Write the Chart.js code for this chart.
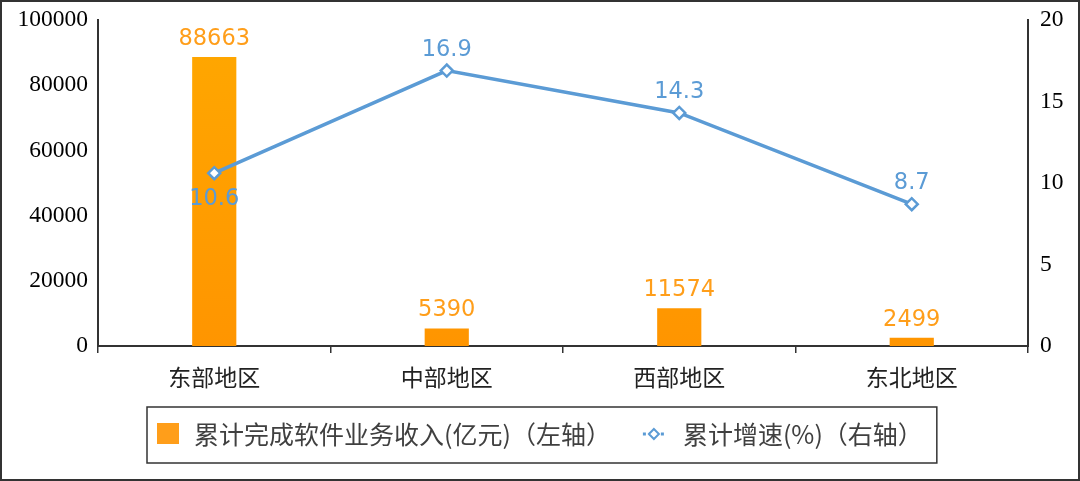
<!DOCTYPE html>
<html>
<head>
<meta charset="utf-8">
<script src="https://cdn.jsdelivr.net/npm/chart.js@4"></script>
<style>
    html, body { margin: 0; padding: 0; background: #fff; }
    #wrap { width: 1080px; height: 481px; }
</style>
</head>
<body>
<div id="wrap"><canvas id="chart" width="1080" height="481"></canvas></div>
<script>
// Data
const regions = ['东部地区', '中部地区', '西部地区', '东北地区'];
const revenue = [88663, 5390, 11574, 2499];      // 亿元, left axis
const growth = [10.6, 16.9, 14.3, 8.7];           // %, right axis
const leftTicks = [0, 20000, 40000, 60000, 80000, 100000];
const rightTicks = [0, 5, 10, 15, 20];
const revenueLabel = '累计完成软件业务收入(亿元)（左轴）';
const growthLabel = '累计增速(%)（右轴）';

const orange = '#FF9E1A';
const blue = '#5B9BD5';
const axisColor = '#333333';

// value labels on bars and points (line labels: first one sits below)
const valueLabels = {
    id: 'valueLabels',
    afterDatasetsDraw(chart) {
        const ctx = chart.ctx;
        ctx.save();
        ctx.font = '22.5px "DejaVu Sans"';
        ctx.textAlign = 'center';
        ctx.textBaseline = 'alphabetic';
        chart.data.datasets.forEach((ds, i) => {
            const meta = chart.getDatasetMeta(i);
            meta.data.forEach((el, j) => {
                const v = ds.data[j];
                if (ds.type === 'bar') {
                    ctx.fillStyle = orange;
                    ctx.fillText(String(v), el.x, el.y - 12);
                } else {
                    ctx.fillStyle = blue;
                    const below = j === 0;
                    ctx.fillText(v.toFixed(1), el.x, below ? el.y + 32 : el.y - 15);
                }
            });
        });
        ctx.restore();
    }
};

// boxed legend + outer frame
const frameAndLegend = {
    id: 'frameAndLegend',
    afterDraw(chart) {
        const ctx = chart.ctx;
        const W = chart.width, H = chart.height;
        ctx.save();
        ctx.strokeStyle = axisColor;
        ctx.lineWidth = 2;
        ctx.strokeRect(1, 1, W - 2, H - 2);

        ctx.font = '25px "Noto Sans CJK SC"';
        const w1 = ctx.measureText(revenueLabel).width;
        const w2 = ctx.measureText(growthLabel).width;
        const total = 22 + 15 + w1 + 32 + 22 + 18 + w2;
        const boxLeft = Math.round(W / 2 - total / 2 - 10);
        const boxTop = 407, boxH = 56;
        const cy = boxTop + boxH / 2 - 1;
        ctx.lineWidth = 1.5;
        ctx.strokeRect(boxLeft, boxTop, total + 24, boxH);

        let x = boxLeft + 10;
        ctx.fillStyle = orange;
        ctx.fillRect(x, cy - 11, 22, 21);
        x += 22 + 15;
        ctx.fillStyle = '#404040';
        ctx.textBaseline = 'middle';
        ctx.fillText(revenueLabel, x, cy);
        x += w1 + 32;

        // line marker with diamond
        ctx.strokeStyle = blue;
        ctx.lineWidth = 3;
        ctx.setLineDash([3, 3]);
        ctx.beginPath();
        ctx.moveTo(x, cy); ctx.lineTo(x + 22, cy);
        ctx.stroke();
        ctx.setLineDash([]);
        const mx = x + 11;
        ctx.beginPath();
        ctx.moveTo(mx, cy - 5); ctx.lineTo(mx + 5, cy); ctx.lineTo(mx, cy + 5); ctx.lineTo(mx - 5, cy);
        ctx.closePath();
        ctx.fillStyle = '#fff';
        ctx.fill();
        ctx.lineWidth = 2;
        ctx.stroke();
        x += 22 + 18;
        ctx.fillStyle = '#404040';
        ctx.fillText(growthLabel, x, cy);
        ctx.restore();
    }
};

const ctx = document.getElementById('chart').getContext('2d');
new Chart(ctx, {
    data: {
        labels: regions,
        datasets: [
            {
                type: 'line',
                label: growthLabel,
                data: growth,
                yAxisID: 'y1',
                borderColor: blue,
                borderWidth: 3.5,
                pointStyle: 'rectRot',
                pointRadius: 6,
                pointBorderWidth: 2.5,
                pointBackgroundColor: '#fff',
                pointBorderColor: blue,
                tension: 0,
                order: 0
            },
            {
                type: 'bar',
                label: revenueLabel,
                data: revenue,
                yAxisID: 'y',
                backgroundColor: (c) => {
                    const area = c.chart.chartArea;
                    if (!area) return orange;
                    const g = c.chart.ctx.createLinearGradient(0, area.top, 0, area.bottom);
                    g.addColorStop(0, '#FFA800');
                    g.addColorStop(1, '#FF9500');
                    return g;
                },
                categoryPercentage: 1,
                barPercentage: 0.19,
                order: 1
            }
        ]
    },
    options: {
        responsive: false,
        animation: false,
        layout: { padding: { top: 20, bottom: 85, left: 0, right: 0 } },
        plugins: {
            legend: { display: false },
            tooltip: { enabled: false }
        },
        scales: {
            x: {
                offset: true,
                grid: { offset: true, drawOnChartArea: false, drawTicks: true, tickLength: 7, color: axisColor, lineWidth: 1.5 },
                border: { display: true, color: axisColor, width: 2 },
                ticks: { font: { family: '"Noto Sans CJK SC"', size: 23 }, color: '#222', padding: 10 },
                afterFit(s) { s.height = 50; s.paddingLeft = 0; s.paddingRight = 0; }
            },
            y: {
                position: 'left',
                min: 0,
                max: 100000,
                afterBuildTicks(s) { s.ticks = leftTicks.map(v => ({ value: v })); },
                grid: { display: false, drawTicks: false },
                border: { display: true, color: axisColor, width: 2 },
                ticks: { font: { family: '"Liberation Serif"', size: 23.5 }, color: '#000', padding: 10, callback: v => String(v) },
                afterFit(s) { s.width = 98; s.paddingTop = 0; s.paddingBottom = 0; }
            },
            y1: {
                position: 'right',
                min: 0,
                max: 20,
                afterBuildTicks(s) { s.ticks = rightTicks.map(v => ({ value: v })); },
                grid: { display: false, drawTicks: false },
                border: { display: true, color: axisColor, width: 2 },
                ticks: { font: { family: '"Liberation Serif"', size: 23.5 }, color: '#000', padding: 12, callback: v => String(v) },
                afterFit(s) { s.width = 52; s.paddingTop = 0; s.paddingBottom = 0; }
            }
        }
    },
    plugins: [valueLabels, frameAndLegend]
});
</script>
</body>
</html>
